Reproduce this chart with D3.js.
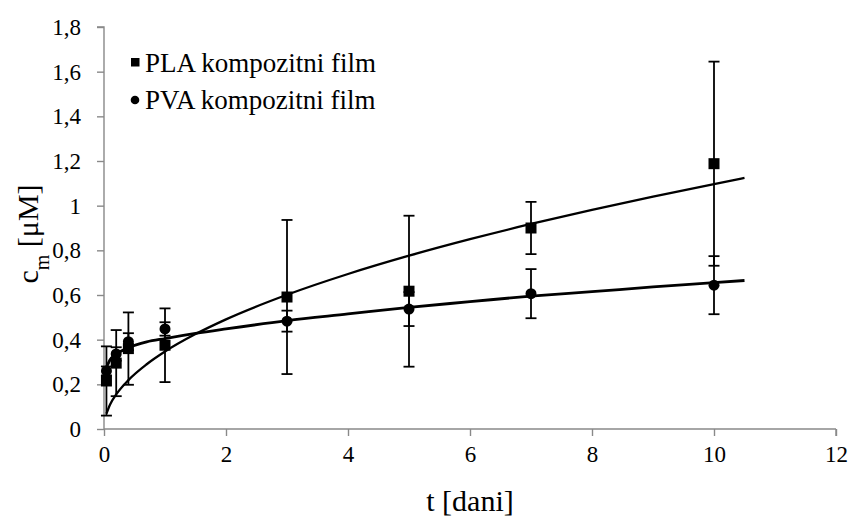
<!DOCTYPE html>
<html>
<head>
<meta charset="utf-8">
<script src="https://d3js.org/d3.v7.min.js"></script>
</head>
<body style="margin:0">
<script>

// measured points (mean +/- error)
var days = [0.04, 0.2, 0.4, 1, 3, 5, 7, 10];
var plaMean = [0.215, 0.295, 0.36, 0.375, 0.591, 0.617, 0.90, 1.188];
var plaErr = [0.155, 0.148, 0.162, 0.165, 0.345, 0.338, 0.117, 0.457];
var pvaMean = [0.26, 0.336, 0.391, 0.448, 0.483, 0.537, 0.606, 0.644];
var pvaErr = [0.02, 0.03, 0.038, 0.03, 0.047, 0.076, 0.11, 0.13];

// trend lines
var fitDays = [0.04, 0.1, 0.2, 0.4, 0.7, 1, 1.5, 2, 3, 4, 5, 6, 7, 8, 9, 10, 10.5];
var plaFit = [0.069, 0.11, 0.155, 0.219, 0.29, 0.347, 0.425, 0.491, 0.601, 0.694, 0.776, 0.85, 0.918, 0.981, 1.041, 1.097, 1.124];
var pvaFit = [0.275, 0.31, 0.335, 0.364, 0.39, 0.405, 0.428, 0.448, 0.485, 0.515, 0.545, 0.57, 0.595, 0.615, 0.636, 0.655, 0.665];

var xTicks = [0, 2, 4, 6, 8, 10, 12];
var yTicks = [0, 0.2, 0.4, 0.6, 0.8, 1, 1.2, 1.4, 1.6, 1.8];
var yTickLabels = ["0", "0,2", "0,4", "0,6", "0,8", "1", "1,2", "1,4", "1,6", "1,8"];
var seriesNames = ["PLA kompozitni film", "PVA kompozitni film"];

var div_width = 854;
var div_height = 517;
var margin = { top: 27, right: 18, bottom: 88, left: 104 };
var w = div_width - margin.left - margin.right;
var h = div_height - margin.top - margin.bottom;
var axisColor = "#898989";
var fontName = "Times New Roman";

function serifText(sel, size) {
    return sel
        .attr("font-family", fontName)
        .attr("font-size", size)
        .style("font-family", function () { return "'" + fontName + "'"; })
        .style("font-size", size + "px");
}

var svg = d3.select("body").append("svg")
    .attr("width", div_width)
    .attr("height", div_height);

var g = svg.append("g")
    .attr("transform", "translate(" + margin.left + "," + margin.top + ")");

var x = d3.scaleLinear().domain([0, 12]).range([0, w]);
var y = d3.scaleLinear().domain([0, 1.8]).range([h, 0]);

// axes
var xAxis = g.append("g")
    .attr("transform", "translate(0," + h + ")")
    .call(d3.axisBottom(x).tickValues(xTicks).tickSize(7).tickPadding(10).tickFormat(function (d) { return d; }));

var yAxis = g.append("g")
    .call(d3.axisLeft(y).tickValues(yTicks).tickSize(7).tickPadding(16)
        .tickFormat(function (d, i) { return yTickLabels[i]; }));

[xAxis, yAxis].forEach(function (a) {
    a.attr("font-family", fontName).attr("font-size", 23);
    a.select(".domain").attr("stroke", axisColor).attr("stroke-width", 1.4);
    a.selectAll(".tick line").attr("stroke", axisColor).attr("stroke-width", 1.4);
    serifText(a.selectAll(".tick text").attr("fill", "#000"), 23);
});
xAxis.select(".domain").attr("d", "M0,0H" + w + "M" + w + ",0V7");
yAxis.select(".domain").attr("d", "M-7,0H0V" + h);

// trend lines
var line = d3.line()
    .x(function (d) { return x(d[0]); })
    .y(function (d) { return y(d[1]); })
    .curve(d3.curveMonotoneX);

g.append("path")
    .datum(fitDays.map(function (t, i) { return [t, plaFit[i]]; }))
    .attr("d", line)
    .attr("fill", "none")
    .attr("stroke", "#000")
    .attr("stroke-width", 2.3);

g.append("path")
    .datum(fitDays.map(function (t, i) { return [t, pvaFit[i]]; }))
    .attr("d", line)
    .attr("fill", "none")
    .attr("stroke", "#000")
    .attr("stroke-width", 2.8);

// error bars
function errorBars(mean, err) {
    var cap = 5.5;
    var eb = g.append("g").attr("stroke", "#000").attr("stroke-width", 1.8);
    days.forEach(function (t, i) {
        var cx = x(t);
        var top = y(mean[i] + err[i]);
        var bot = y(mean[i] - err[i]);
        eb.append("line").attr("x1", cx).attr("x2", cx).attr("y1", top).attr("y2", bot);
        eb.append("line").attr("x1", cx - cap).attr("x2", cx + cap).attr("y1", top).attr("y2", top);
        eb.append("line").attr("x1", cx - cap).attr("x2", cx + cap).attr("y1", bot).attr("y2", bot);
    });
}
errorBars(plaMean, plaErr);
errorBars(pvaMean, pvaErr);

// markers
g.selectAll(".sq")
    .data(days)
    .enter().append("rect")
    .attr("class", "sq")
    .attr("x", function (d) { return x(d) - 5.5; })
    .attr("y", function (d, i) { return y(plaMean[i]) - 5.5; })
    .attr("width", 11)
    .attr("height", 11)
    .attr("fill", "#000");

g.selectAll(".dot")
    .data(days)
    .enter().append("circle")
    .attr("class", "dot")
    .attr("cx", function (d) { return x(d); })
    .attr("cy", function (d, i) { return y(pvaMean[i]); })
    .attr("r", 5.5)
    .attr("fill", "#000");

// legend
var legend = svg.append("g");
legend.append("rect").attr("x", 131).attr("y", 58).attr("width", 8.5).attr("height", 8.5).attr("fill", "#000");
legend.append("circle").attr("cx", 135).attr("cy", 100).attr("r", 4.3).attr("fill", "#000");
serifText(legend.selectAll("text")
    .data(seriesNames)
    .enter().append("text")
    .attr("x", 145)
    .attr("y", function (d, i) { return 72 + i * 37; })
    .text(function (d) { return d; }), 27);

// axis titles
serifText(svg.append("text")
    .attr("x", margin.left + x(6))
    .attr("y", 511)
    .attr("text-anchor", "middle")
    .text("t [dani]"), 30);

var yt = serifText(svg.append("text")
    .attr("transform", "translate(38," + 234 + ") rotate(-90)")
    .attr("text-anchor", "middle"), 30);
yt.append("tspan").text("c");
yt.append("tspan").attr("baseline-shift", "sub").style("font-size", "20px").text("m");
yt.append("tspan").text(" [μM]");

</script>
</body>
</html>
